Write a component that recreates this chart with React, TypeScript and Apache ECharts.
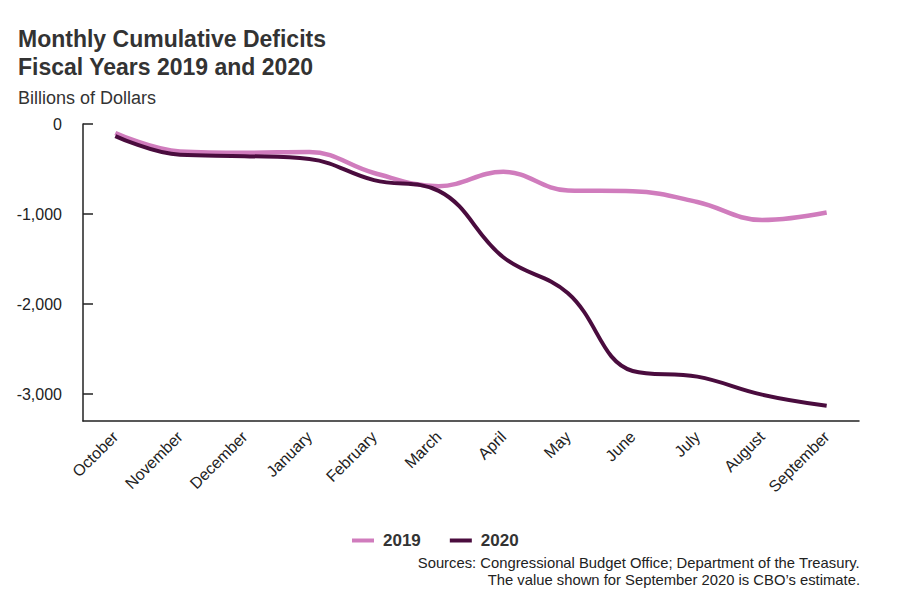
import React, { useEffect, useRef } from "react";
import * as echarts from "echarts";

const months = ["October", "November", "December", "January", "February", "March", "April", "May", "June", "July", "August", "September"];
const fy2019 = [-100, -305, -319, -310, -544, -691, -531, -739, -747, -867, -1067, -984];
const fy2020 = [-134, -343, -357, -389, -624, -743, -1481, -1880, -2744, -2807, -3007, -3131];
const yTicks = [0, -1000, -2000, -3000];
const seriesNames = ["2019", "2020"];
const sourceLines = [
  "Sources: Congressional Budget Office; Department of the Treasury.",
  "The value shown for September 2020 is CBO\u2019s estimate.",
];

const FONT = "'Liberation Sans', Arial, sans-serif";
const TXT = "#333333";

export default function App() {
  const ref = useRef<HTMLDivElement>(null);
  useEffect(() => {
    if (!ref.current) return;
    const chart = echarts.init(ref.current, undefined, { renderer: "svg" });
    chart.setOption({
      animation: false,
      textStyle: { fontFamily: FONT },
      title: [
        {
          text: "Monthly Cumulative Deficits\nFiscal Years 2019 and 2020",
          left: 13,
          top: 20,
          textStyle: { fontFamily: FONT, fontSize: 23, fontWeight: "bold", color: TXT, lineHeight: 28 },
        },
        {
          text: "Billions of Dollars",
          left: 13,
          top: 84,
          textStyle: { fontFamily: FONT, fontSize: 18, fontWeight: "normal", color: TXT },
        },
      ],
      graphic: sourceLines.map((t, i) => ({
        type: "text",
        right: 44,
        top: 555 + i * 17,
        style: {
          text: t,
          font: "14.8px 'Liberation Sans', Arial, sans-serif",
          fill: "#222",
        },
      })),
      legend: {
        data: seriesNames,
        left: 347,
        top: 527,
        icon: "rect",
        itemWidth: 22,
        itemHeight: 4,
        itemGap: 29,
        textStyle: { fontFamily: FONT, fontSize: 17, fontWeight: "bold", color: TXT, padding: [0, 0, 0, 4] },
      },
      grid: { left: 83, right: 45, top: 124, bottom: 180, containLabel: false },
      xAxis: {
        type: "category",
        data: months,
        boundaryGap: true,
        axisLine: { onZero: false, lineStyle: { color: "#222", width: 1.5 } },
        axisTick: { inside: true, length: 10, alignWithLabel: true, lineStyle: { color: "#222", width: 1.5 } },
        axisLabel: { rotate: 45, margin: 13, fontSize: 16, color: "#222", fontFamily: FONT },
        splitLine: { show: false },
      },
      yAxis: {
        type: "value",
        min: -3300,
        max: 0,
        axisLine: { show: true, lineStyle: { color: "#222", width: 1.5 } },
        axisTick: { show: true, inside: true, length: 10, customValues: yTicks, lineStyle: { color: "#222", width: 1.5 } },
        axisLabel: {
          customValues: yTicks,
          margin: 21,
          fontSize: 16,
          color: "#222",
          fontFamily: FONT,
          formatter: (v: number) => (v === 0 ? "0" : "-" + Math.abs(v).toLocaleString("en-US")),
        },
        splitLine: { show: false },
      },
      series: [
        {
          name: seriesNames[0],
          type: "line",
          data: fy2019,
          smooth: 0.4,
          symbol: "none",
          lineStyle: { color: "#d07cbd", width: 4.5 },
          itemStyle: { color: "#d07cbd" },
        },
        {
          name: seriesNames[1],
          type: "line",
          data: fy2020,
          smooth: 0.4,
          symbol: "none",
          lineStyle: { color: "#4a0c3e", width: 4 },
          itemStyle: { color: "#4a0c3e" },
        },
      ],
    });
    return () => chart.dispose();
  }, []);
  return <div ref={ref} style={{ position: "fixed", left: 0, top: 0, width: 904, height: 601, background: "#fff" }} />;
}
